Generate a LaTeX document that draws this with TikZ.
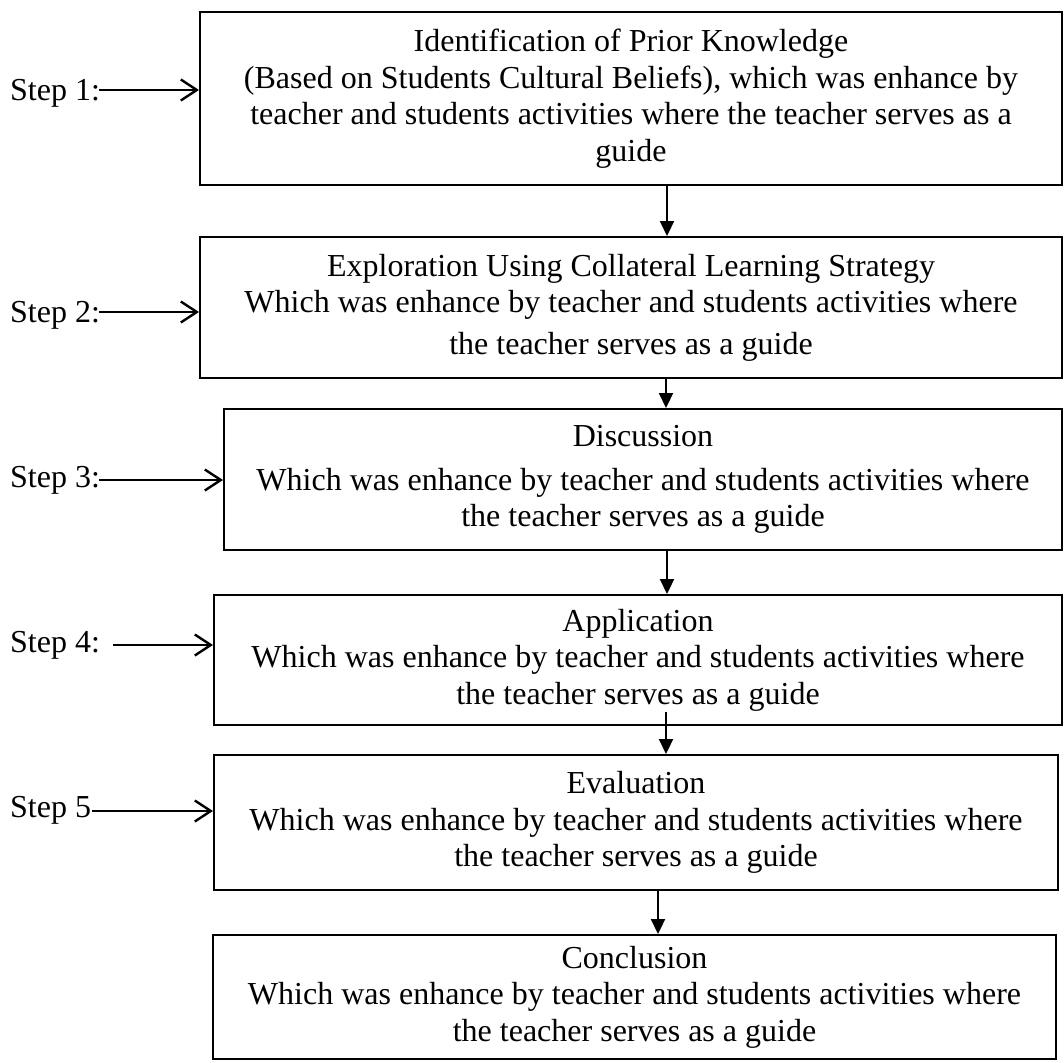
\documentclass[tikz,border=0pt]{standalone}
\usepackage{fontspec}
\setmainfont{Liberation Serif}
\usetikzlibrary{arrows.meta}
\begin{document}
\begin{tikzpicture}[x=1pt,y=-1pt,
  box/.style={draw=black, line width=2pt, inner sep=0pt, align=center,
              font=\fontsize{32}{36.5}\selectfont},
  steplabel/.style={anchor=base west, inner sep=0pt, font=\fontsize{32}{36.5}\selectfont},
  steparrow/.style={line width=2.2pt, -{Straight Barb[length=16pt,width=21pt,line width=2.4pt]}},
  flow/.style={line width=2.2pt, -{Triangle[length=15pt,width=14pt]}}]
\useasboundingbox (0,0) rectangle (1064,1062);

% boxes
\node[box, minimum width=862pt, minimum height=173pt] (b1) at (631,98.5)
  {Identification of Prior Knowledge\\(Based on Students Cultural Beliefs), which was enhance by\\teacher and students activities where the teacher serves as a\\guide};
\node[box, minimum width=862pt, minimum height=141pt] (b2) at (631,307.5)
  {Exploration Using Collateral Learning Strategy\\Which was enhance by teacher and students activities where\\[5pt]the teacher serves as a guide};
\node[box, minimum width=838pt, minimum height=141pt] (b3) at (643,479.5)
  {Discussion\\[7pt]Which was enhance by teacher and students activities where\\the teacher serves as a guide};
\node[box, minimum width=848pt, minimum height=130pt] (b4) at (638,660)
  {Application\\Which was enhance by teacher and students activities where\\the teacher serves as a guide};
\node[box, minimum width=844pt, minimum height=135pt] (b5) at (636,822.5)
  {Evaluation\\Which was enhance by teacher and students activities where\\the teacher serves as a guide};
\node[box, minimum width=843pt, minimum height=124pt] (b6) at (634.5,997)
  {Conclusion\\Which was enhance by teacher and students activities where\\the teacher serves as a guide};

% step labels
\node[steplabel] (s1) at (10,100) {Step 1:};
\node[steplabel] (s2) at (10,322) {Step 2:};
\node[steplabel] (s3) at (10,487) {Step 3:};
\node[steplabel] (s4) at (10,652) {Step 4:};
\node[steplabel] (s5) at (10,817) {Step 5};

% step arrow tails
\coordinate (t1) at (99,90);
\coordinate (t2) at (99,312);
\coordinate (t3) at (99,480);
\coordinate (t4) at (113,645);
\coordinate (t5) at (92,811);
\draw[steparrow] (t1) -- (t1 -| b1.west);
\draw[steparrow] (t2) -- (t2 -| b2.west);
\draw[steparrow] (t3) -- (t3 -| b3.west);
\draw[steparrow] (t4) -- (t4 -| b4.west);
\draw[steparrow] (t5) -- (t5 -| b5.west);

% vertical flow arrows
\coordinate (v1) at (667,0);
\coordinate (v2) at (666,0);
\coordinate (v3) at (667,0);
\coordinate (v4) at (666,712);
\coordinate (v5) at (658,0);
\draw[flow] (v1 |- b1.south) -- (v1 |- b2.north);
\draw[flow] (v2 |- b2.south) -- (v2 |- b3.north);
\draw[flow] (v3 |- b3.south) -- (v3 |- b4.north);
\draw[flow] (v4) -- (v4 |- b5.north);
\draw[flow] (v5 |- b5.south) -- (v5 |- b6.north);
\end{tikzpicture}
\end{document}
